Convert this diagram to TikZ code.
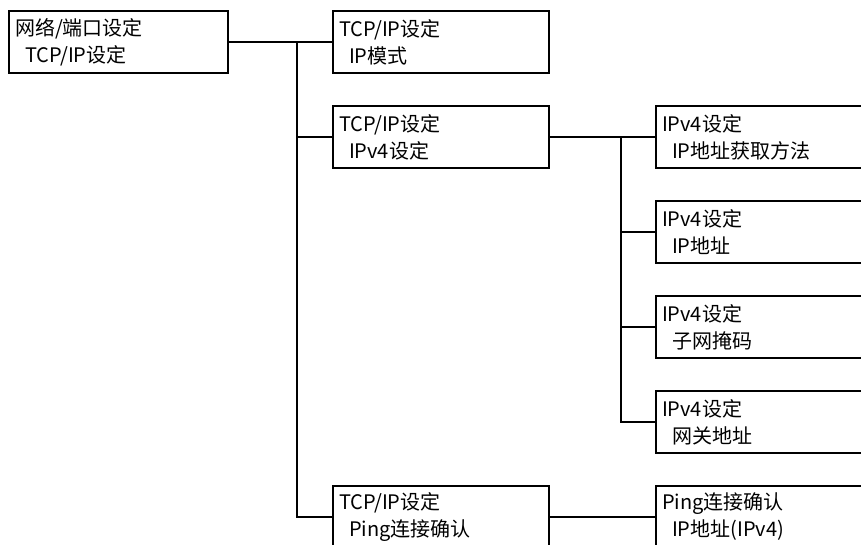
\documentclass[tikz,border=0pt]{standalone}
\usepackage{fontspec}
\setmainfont{Noto Sans CJK SC}
\begin{document}
\begin{tikzpicture}[
    x=1pt, y=-1pt,
    every node/.style={font=\fontsize{20}{27}\selectfont},
    menu/.style={rectangle, draw, line width=2.8pt, minimum width=216pt, minimum height=62pt,
        text width=204pt, inner xsep=6pt, inner ysep=0pt, align=left},
    link/.style={line width=2.8pt},
]
\clip (0,0) rectangle (861,545);

\node[menu, minimum width=219pt, text width=207pt] (net) at (118.5,42) {网络/端口设定\\\hspace*{0.5em}TCP/IP设定};
\node[menu] (tcpMode) at (441,42) {TCP/IP设定\\\hspace*{0.5em}IP模式};
\node[menu] (tcpV4) at (441,137) {TCP/IP设定\\\hspace*{0.5em}IPv4设定};
\node[menu] (tcpPing) at (441,517) {TCP/IP设定\\\hspace*{0.5em}Ping连接确认};

\node[menu] (v4Method) at (764,137) {IPv4设定\\\hspace*{0.5em}IP地址获取方法};
\node[menu] (v4Addr) at (764,232) {IPv4设定\\\hspace*{0.5em}IP地址};
\node[menu] (v4Mask) at (764,327) {IPv4设定\\\hspace*{0.5em}子网掩码};
\node[menu] (v4Gate) at (764,422) {IPv4设定\\\hspace*{0.5em}网关地址};
\node[menu] (pingAddr) at (764,517) {Ping连接确认\\\hspace*{0.5em}IP地址(IPv4)};

\coordinate (jTcp) at (297,42);
\coordinate (jV4) at (621,137);

\draw[link] (net) -- (tcpMode);
\draw[link] (jTcp) |- (tcpV4);
\draw[link] (jTcp) |- (tcpPing);

\draw[link] (tcpV4) -- (v4Method);
\draw[link] (jV4) |- (v4Addr);
\draw[link] (jV4) |- (v4Mask);
\draw[link] (jV4) |- (v4Gate);

\draw[link] (tcpPing) -- (pingAddr);
\end{tikzpicture}
\end{document}
